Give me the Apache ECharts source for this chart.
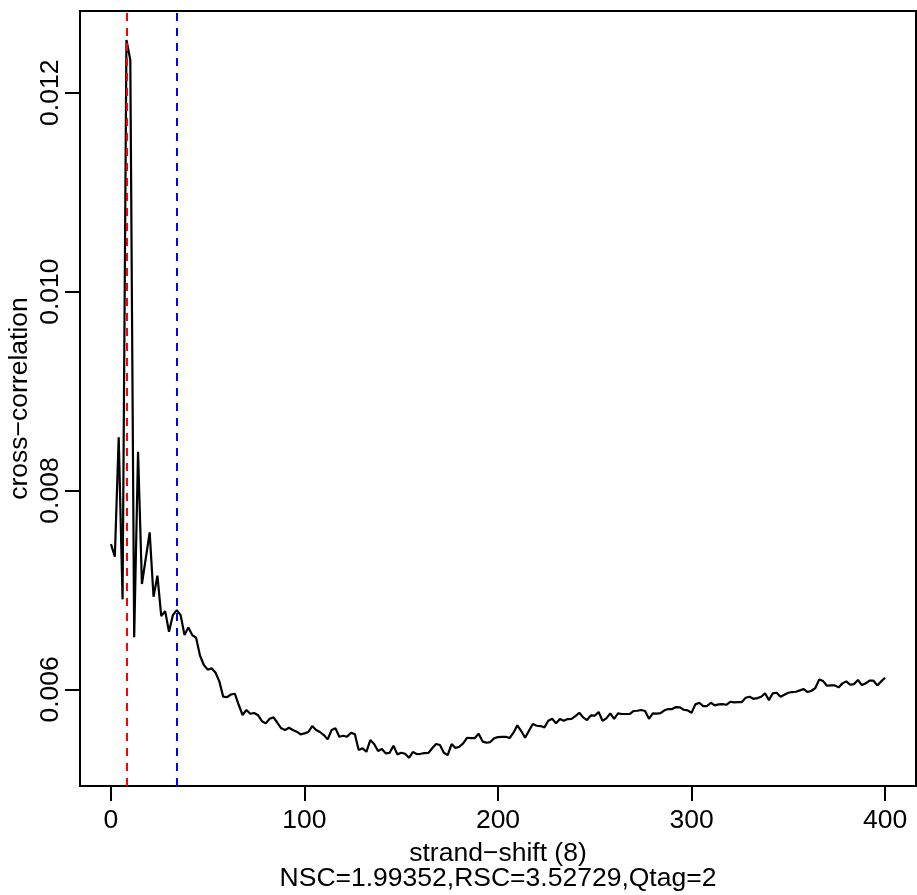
<!DOCTYPE html>
<html>
<head>
<meta charset="utf-8">
<script src="https://cdn.jsdelivr.net/npm/echarts@6/dist/echarts.min.js"></script>
<style>
html,body{margin:0;padding:0;background:#fff;}
#chart{width:917px;height:895px;}
</style>
</head>
<body>
<div id="chart"></div>
<script>
// strand shift runs 0..400 in steps of 2
const shiftStart = 0, shiftStep = 2;
const crossCorrelation = [
  0.007461,0.007334,0.008534,0.006905,0.012530,0.012329,0.006523,0.008390,0.007059,0.007320,
  0.007579,0.006931,0.007143,0.006737,0.006787,0.006579,0.006747,0.006797,0.006747,0.006546,
  0.006623,0.006546,0.006519,0.006340,0.006245,0.006198,0.006211,0.006170,0.006080,0.005926,
  0.005922,0.005948,0.005956,0.005845,0.005742,0.005792,0.005755,0.005762,0.005740,0.005680,
  0.005658,0.005705,0.005718,0.005664,0.005608,0.005591,0.005614,0.005591,0.005574,0.005547,
  0.005557,0.005571,0.005631,0.005591,0.005571,0.005540,0.005497,0.005591,0.005608,0.005523,
  0.005533,0.005523,0.005564,0.005550,0.005390,0.005407,0.005372,0.005490,0.005450,0.005380,
  0.005400,0.005356,0.005362,0.005433,0.005346,0.005362,0.005352,0.005312,0.005369,0.005349,
  0.005352,0.005359,0.005360,0.005407,0.005450,0.005440,0.005362,0.005339,0.005450,0.005410,
  0.005423,0.005457,0.005513,0.005510,0.005510,0.005553,0.005477,0.005463,0.005470,0.005507,
  0.005520,0.005523,0.005523,0.005510,0.005564,0.005638,0.005581,0.005513,0.005584,0.005651,
  0.005634,0.005631,0.005618,0.005684,0.005704,0.005658,0.005701,0.005684,0.005701,0.005704,
  0.005731,0.005765,0.005718,0.005691,0.005738,0.005735,0.005772,0.005684,0.005708,0.005759,
  0.005704,0.005759,0.005752,0.005752,0.005752,0.005782,0.005785,0.005792,0.005782,0.005704,
  0.005759,0.005755,0.005760,0.005789,0.005802,0.005802,0.005822,0.005819,0.005795,0.005789,
  0.005765,0.005849,0.005865,0.005832,0.005832,0.005865,0.005839,0.005849,0.005852,0.005845,
  0.005875,0.005869,0.005872,0.005872,0.005915,0.005926,0.005905,0.005912,0.005926,0.005960,
  0.005892,0.005960,0.005966,0.005926,0.005946,0.005966,0.005973,0.005976,0.005990,0.006003,
  0.005973,0.005986,0.006013,0.006100,0.006083,0.006036,0.006040,0.006040,0.006020,0.006060,
  0.006080,0.006046,0.006053,0.006094,0.006043,0.006060,0.006087,0.006087,0.006040,0.006080,
  0.006117
];
const xTicks = [0, 100, 200, 300, 400];
const yTicks = [0.006, 0.008, 0.010, 0.012];
const yTickLabels = ["0.006", "0.008", "0.010", "0.012"];
const redLineShift = 8;
const blueLineShift = 34;
const xTitle = "strand\u2212shift (8)";
const yTitle = "cross\u2212correlation";
const subTitle = "NSC=1.99352,RSC=3.52729,Qtag=2";

const points = crossCorrelation.map((v, i) => [shiftStart + i * shiftStep, v]);
const FONT = "Liberation Sans, Arial, Helvetica, sans-serif";
const FS = 26.5;

const chart = echarts.init(document.getElementById('chart'), null, {renderer: 'canvas'});
chart.setOption({
  backgroundColor: '#ffffff',
  animation: false,
  grid: {left: 80, right: 1, top: 11, bottom: 109, show: true, borderColor: '#000', borderWidth: 2,
    backgroundColor: 'transparent', containLabel: false, outerBoundsMode: 'none'},
  xAxis: {
    type: 'value', min: -16, max: 416,
    axisLine: {show: false, onZero: false},
    splitLine: {show: false},
    axisTick: {show: true, length: 15, lineStyle: {color: '#000', width: 2}, customValues: xTicks},
    axisLabel: {show: true, customValues: xTicks, margin: 21, color: '#000', fontSize: FS, fontFamily: FONT,
      formatter: v => String(v)},
    name: xTitle, nameLocation: 'middle', nameGap: 54, nameMoveOverlap: false,
    nameTextStyle: {color: '#000', fontSize: FS, fontFamily: FONT}
  },
  yAxis: {
    type: 'value', min: 0.005028, max: 0.012822,
    axisLine: {show: false, onZero: false},
    splitLine: {show: false},
    axisTick: {show: true, length: 15, lineStyle: {color: '#000', width: 2}, customValues: yTicks},
    axisLabel: {show: true, customValues: yTicks, rotate: 90, margin: 16, color: '#000', fontSize: FS, fontFamily: FONT,
      formatter: v => yTickLabels[yTicks.findIndex(t => Math.abs(t - v) < 1e-9)] || ''},
    name: yTitle, nameLocation: 'middle', nameGap: 47, nameRotate: 90, nameMoveOverlap: false,
    nameTextStyle: {color: '#000', fontSize: FS, fontFamily: FONT}
  },
  graphic: [{
    type: 'text', x: 498, y: 879,
    style: {text: subTitle, textAlign: 'center', textVerticalAlign: 'middle', fill: '#000', font: FS + 'px ' + FONT}
  }],
  series: [{
    type: 'line',
    data: points,
    showSymbol: false,
    symbol: 'none',
    lineStyle: {color: '#000', width: 2.2},
    z: 3,
    markLine: {
      silent: true,
      symbol: ['none', 'none'],
      label: {show: false},
      data: [
        {xAxis: redLineShift, lineStyle: {color: '#ff0000', type: [8, 7], width: 2}},
        {xAxis: blueLineShift, lineStyle: {color: '#0000ff', type: [8, 7], width: 2}}
      ]
    }
  }]
});
</script>
</body>
</html>
